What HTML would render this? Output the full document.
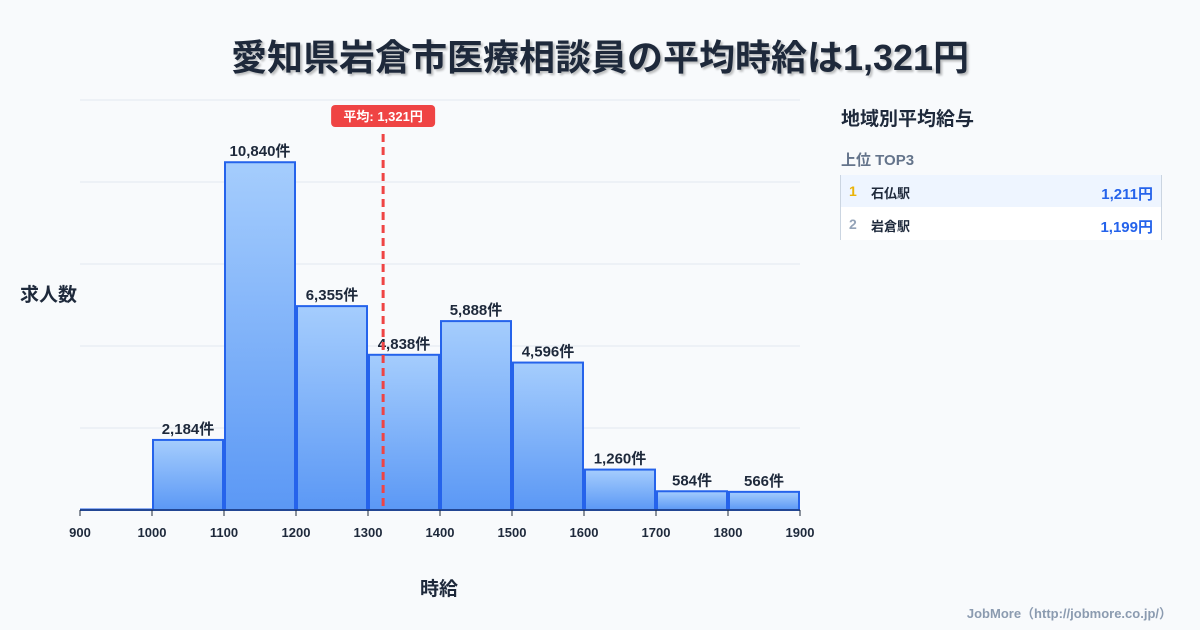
<!DOCTYPE html>
<html><head><meta charset="utf-8"><style>
body{margin:0;width:1200px;height:630px;background:#f8fafc;font-family:"Liberation Sans","Noto Sans CJK JP",sans-serif;overflow:hidden;position:relative}
.t{position:absolute}
</style></head><body>
<div class="t" style="left:0;width:1200px;top:29px;text-align:center;font-size:36px;font-weight:bold;color:#1e293b;text-shadow:2px 2px 2px rgba(0,0,0,0.25)">愛知県岩倉市医療相談員の平均時給は1,321円</div>
<svg id="chart" width="1200" height="630" style="position:absolute;left:0;top:0">
<defs><linearGradient id="g" x1="0" y1="0" x2="0" y2="1"><stop offset="0" stop-color="#a5cdfd"/><stop offset="1" stop-color="#5b98f5"/></linearGradient></defs>
</svg>
<div class="t" style="left:20px;top:280px;font-size:19px;font-weight:bold;color:#1e293b">求人数</div>
<div class="t" style="left:420px;top:574px;font-size:19px;font-weight:bold;color:#1e293b">時給</div>
<div class="t" style="left:841px;top:104px;font-size:19px;font-weight:bold;color:#1e293b">地域別平均給与</div>
<div class="t" style="left:841px;top:149px;font-size:15px;font-weight:bold;color:#64748b">上位 TOP3</div>
<div class="t" style="left:840px;top:175px;width:320px;height:65px;border-left:1px solid #cbd5e1;border-right:1px solid #cbd5e1">
<div style="height:32px;background:#eef5ff;position:relative;font-size:14px;font-weight:bold">
<span style="position:absolute;left:8px;top:8px;color:#eab308">1</span><span style="position:absolute;left:30px;top:8px;color:#1e293b;font-size:13px">石仏駅</span><span style="position:absolute;right:8px;top:8px;color:#2563eb;font-size:15px">1,211円</span></div>
<div style="height:33px;background:#fff;position:relative;font-size:14px;font-weight:bold">
<span style="position:absolute;left:8px;top:9px;color:#94a3b8">2</span><span style="position:absolute;left:30px;top:9px;color:#1e293b;font-size:13px">岩倉駅</span><span style="position:absolute;right:8px;top:9px;color:#2563eb;font-size:15px">1,199円</span></div>
</div>
<div class="t" style="right:28px;top:603px;font-size:13px;font-weight:bold;color:#8b9bb0">JobMore（http://jobmore.co.jp/）</div>
<script>
const binStarts=[900,1000,1100,1200,1300,1400,1500,1600,1700,1800];
const counts=[0,2184,10840,6355,4838,5888,4596,1260,584,566];
const xTicks=[900,1000,1100,1200,1300,1400,1500,1600,1700,1800,1900];
const avg=1321;
const yMax=12780;
const svg=document.getElementById('chart');
const NS='http://www.w3.org/2000/svg';
const x=v=>80+(v-900)*0.72;
const y=v=>510-v/yMax*410;
function mk(t,a){const e=document.createElementNS(NS,t);for(const k in a)e.setAttribute(k,a[k]);svg.appendChild(e);return e;}
for(let i=0;i<=5;i++){const g=mk('line',{x1:80,x2:800,y1:510-i*82,y2:510-i*82,stroke:'#e2e8f0','stroke-width':1});

}
binStarts.forEach((b,i)=>{
 const x0=x(b)+1,x1=x(b+100)-1,yt=Math.min(y(counts[i]),509.5);
 const r=mk('rect',{x:x0,y:yt,width:x1-x0,height:510-yt,fill:'url(#g)',stroke:'#2563eb','stroke-width':2});
 
 
 if(counts[i]>0){const t=mk('text',{x:(x0+x1)/2,y:yt-6,'text-anchor':'middle','font-size':15,'font-weight':'bold',fill:'#1e293b'});
 t.textContent=counts[i].toLocaleString('en-US')+'件';
 
 }
});
const ax=mk('line',{x1:80,x2:800,y1:510,y2:510,stroke:'#1e293b','stroke-width':1});


xTicks.forEach(v=>{
 const tk=mk('line',{x1:x(v),x2:x(v),y1:510,y2:516,stroke:'#1e293b'});
 
 
 const t=mk('text',{x:x(v),y:537,'text-anchor':'middle','font-size':13,'font-weight':'bold',fill:'#1e293b'});
 t.textContent=v;
 
 
});
const ml=mk('line',{x1:x(avg),x2:x(avg),y1:134,y2:510,stroke:'#ef4444','stroke-width':3,'stroke-dasharray':'8,5'});


const bx=mk('rect',{x:x(avg)-52,y:105,width:104,height:22,rx:4,fill:'#ef4444'});


const bt=mk('text',{x:x(avg),y:121,'text-anchor':'middle','font-size':13,'font-weight':'bold',fill:'#fff'});
bt.textContent='平均: 1,321円';


</script>
</body></html>
